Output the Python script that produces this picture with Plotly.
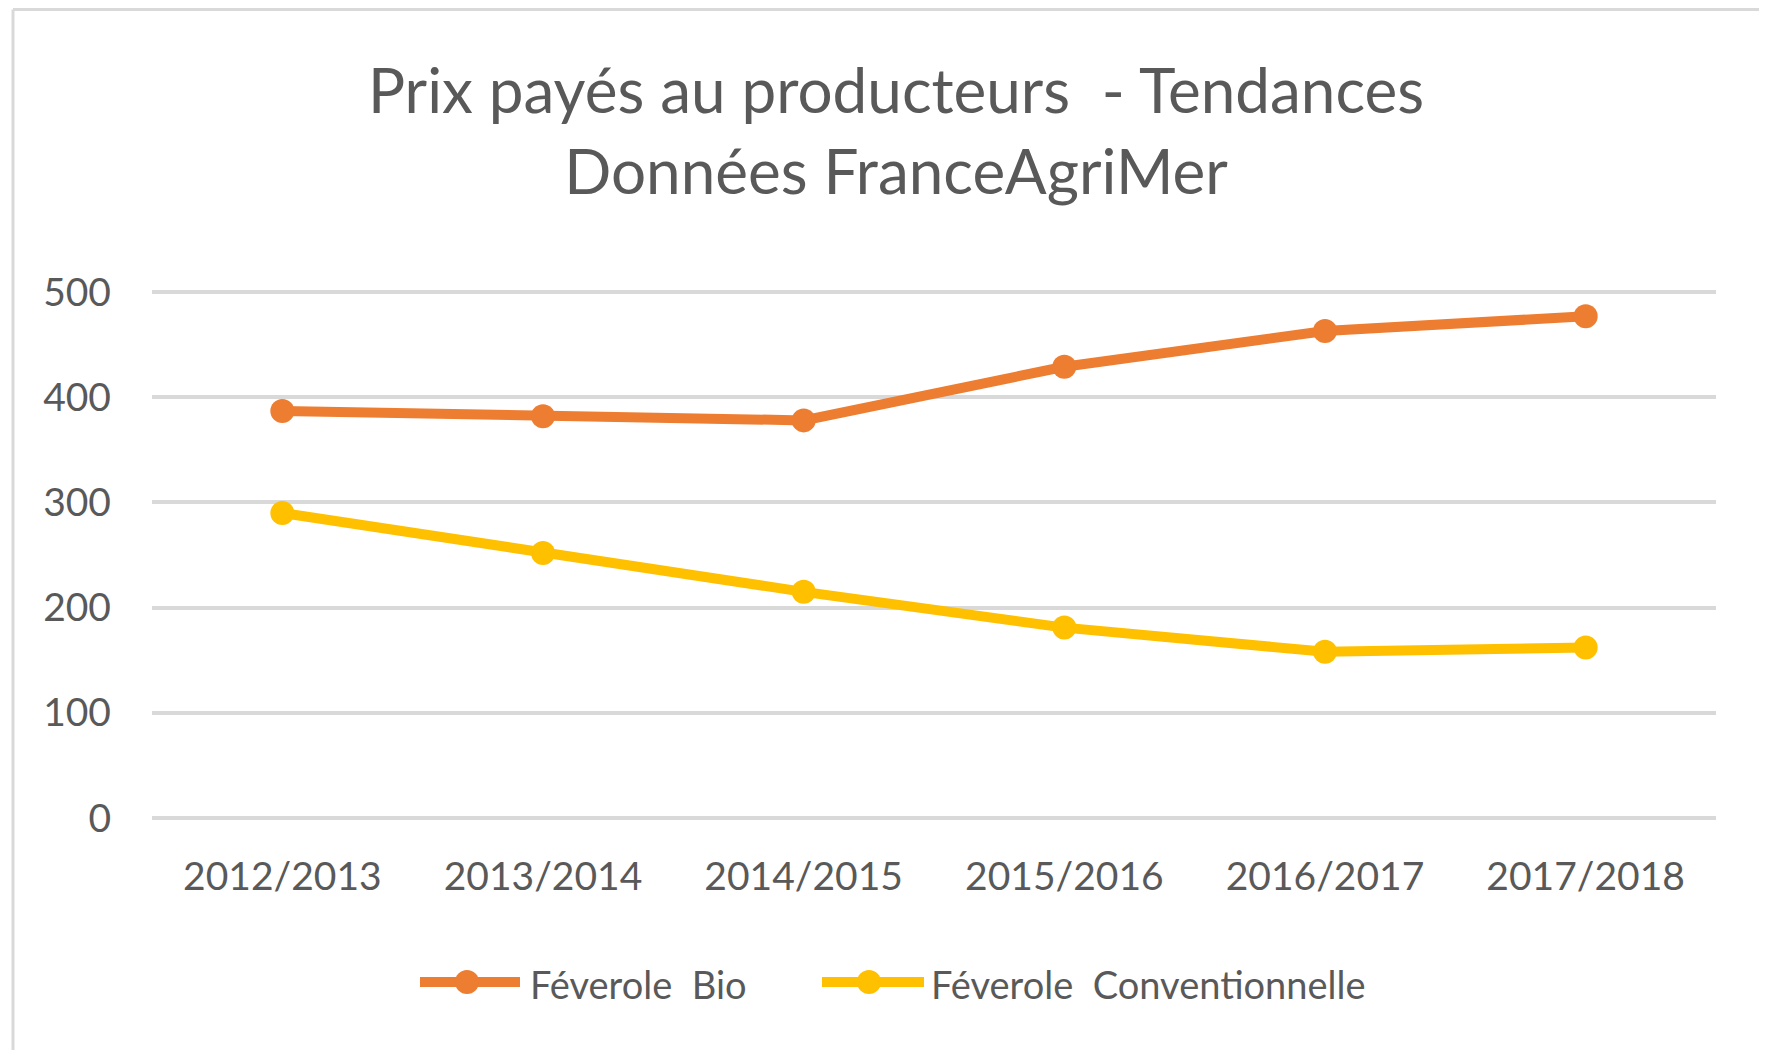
import plotly.graph_objects as go

# ---- data ----
categories = ["2012/2013", "2013/2014", "2014/2015", "2015/2016", "2016/2017", "2017/2018"]
bio = [387, 382, 378, 429, 463, 477]
conv = [290, 252, 215, 181, 158, 162]
series_names = ["Féverole  Bio", "Féverole  Conventionnelle"]
y_ticks = [0, 100, 200, 300, 400, 500]
title_lines = ["Prix payés au producteurs  - Tendances", "Données FranceAgriMer"]

ORANGE = "#ED7D31"
YELLOW = "#FFC000"
TXT = "#595959"
GRID = "#D9D9D9"
FONT = "Lato"

# the page body has an 8px margin: work in page pixels and convert
OFF = 8
W, H = 1767 - 2 * OFF, 1058 - 2 * OFF
# plot area in page pixels
P_L, P_R, P_T, P_B = 152, 1716, 291, 818
ML, MR, MT, MB = P_L - OFF, W - (P_R - OFF), P_T - OFF, H - (P_B - OFF)
PW = W - ML - MR
PH = H - MT - MB


def px2paper_x(px):
    return (px - OFF - ML) / PW


def px2paper_y(py):
    return (H - MB - (py - OFF)) / PH


fig = go.Figure()
for vals, name, col in [(bio, series_names[0], ORANGE), (conv, series_names[1], YELLOW)]:
    fig.add_trace(go.Scatter(
        x=categories, y=vals, name=name, mode="lines+markers",
        line=dict(color=col, width=10),
        marker=dict(color=col, size=24, symbol="circle"),
        showlegend=False,
    ))

shapes = []
annotations = []

# custom legend (Excel-style long line with marker)
legend_items = [
    (series_names[0], ORANGE, 420, 520, 467, 528),
    (series_names[1], YELLOW, 822, 924, 869, 929),
]
ly = px2paper_y(982)
for name, col, lx0, lx1, mx, tx in legend_items:
    shapes.append(dict(type="line", xref="paper", yref="paper",
                       x0=px2paper_x(lx0), x1=px2paper_x(lx1), y0=ly, y1=ly,
                       line=dict(color=col, width=10)))
    shapes.append(dict(type="circle", xref="paper", yref="paper",
                       xsizemode="pixel", ysizemode="pixel",
                       xanchor=px2paper_x(mx), yanchor=ly,
                       x0=-12, x1=12, y0=-12, y1=12,
                       fillcolor=col, line=dict(color=col, width=0)))
    annotations.append(dict(text=name, xref="paper", yref="paper",
                            x=px2paper_x(tx), y=px2paper_y(984),
                            xanchor="left", yanchor="middle", showarrow=False,
                            font=dict(family=FONT, size=38, color=TXT)))

# chart frame (top and left edges visible)
shapes.append(dict(type="line", xref="paper", yref="paper",
                   x0=px2paper_x(13), x1=px2paper_x(1767 + 20),
                   y0=px2paper_y(OFF + 1.5), y1=px2paper_y(OFF + 1.5),
                   line=dict(color=GRID, width=3)))
shapes.append(dict(type="line", xref="paper", yref="paper",
                   x0=px2paper_x(13), x1=px2paper_x(13),
                   y0=px2paper_y(OFF + 1.5), y1=px2paper_y(1058 + 20),
                   line=dict(color=GRID, width=3)))

fig.update_layout(
    width=W, height=H,
    margin=dict(l=ML, r=MR, t=MT, b=MB),
    paper_bgcolor="white", plot_bgcolor="white",
    font=dict(family=FONT, color=TXT),
    title=dict(text="<br>".join(title_lines), xref="container", yref="container",
               x=(896 - OFF) / W, xanchor="center", y=1 - 105 / H, yanchor="top",
               font=dict(family=FONT, size=62, color=TXT)),
    shapes=shapes,
    annotations=annotations,
    showlegend=False,
)
fig.update_xaxes(type="category", range=[-0.5, 5.5], showgrid=False, zeroline=False,
                 showline=False, ticks="", ticklabelstandoff=32,
                 tickfont=dict(family=FONT, size=39, color=TXT))
fig.update_yaxes(range=[0, 501], tickvals=y_ticks, showgrid=True, gridcolor=GRID, gridwidth=4,
                 zeroline=True, zerolinecolor=GRID, zerolinewidth=4, showline=False,
                 ticks="", ticklabelstandoff=40,
                 tickfont=dict(family=FONT, size=39, color=TXT))

fig.write_html("out.html")
